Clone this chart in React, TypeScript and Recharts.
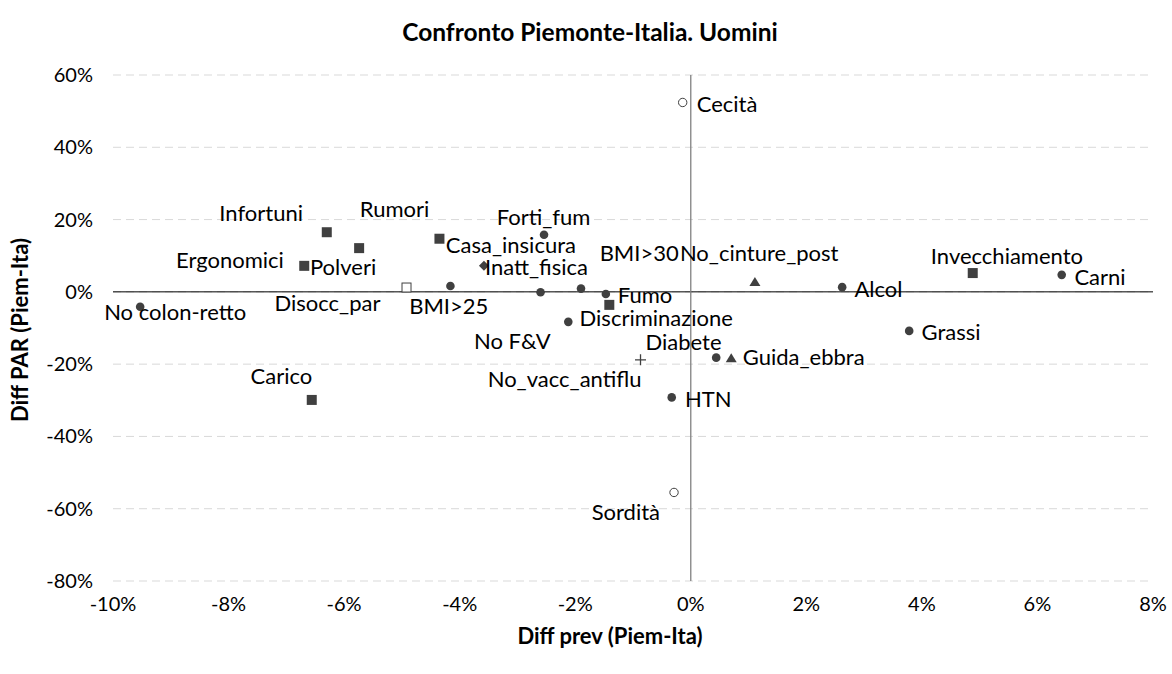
import React from 'react';
import { ScatterChart, Scatter, XAxis, YAxis, CartesianGrid, ReferenceLine } from 'recharts';

// ---- data (Diff prev, Diff PAR) ----
const squareNames = ['Infortuni', 'Rumori', 'Polveri', 'Casa_insicura', 'Carico', 'Invecchiamento', 'Ergonomici'];
const squareX = [-0.063, -0.0574, -0.0669, -0.0435, -0.0656, 0.0488, -0.0141];
const squareY = [0.165, 0.121, 0.072, 0.147, -0.299, 0.052, -0.036];

const dotNames = ['No colon-retto', 'BMI>25', 'Forti_fum', 'No F&V', 'BMI>30', 'Fumo', 'Discriminazione', 'Alcol', 'Carni', 'Grassi', 'Diabete', 'HTN'];
const dotX = [-0.0953, -0.0416, -0.0254, -0.026, -0.019, -0.0147, -0.0212, 0.0262, 0.0642, 0.0378, 0.0044, -0.0033];
const dotY = [-0.041, 0.016, 0.158, -0.001, 0.009, -0.006, -0.083, 0.013, 0.047, -0.108, -0.182, -0.292];

const hollowSquareNames = ['Disocc_par'];
const hollowSquareX = [-0.0492];
const hollowSquareY = [0.012];

const triangleNames = ['No_cinture_post', 'Guida_ebbra'];
const triangleX = [0.0111, 0.007];
const triangleY = [0.027, -0.184];

const crossNames = ['No_vacc_antiflu'];
const crossX = [-0.0087];
const crossY = [-0.188];

const diamondNames = ['Inatt_fisica'];
const diamondX = [-0.0358];
const diamondY = [0.072];

const hollowCircleNames = ['Cecità', 'Sordità'];
const hollowCircleX = [-0.0014, -0.0029];
const hollowCircleY = [0.524, -0.555];

const xTicks = [-0.1, -0.08, -0.06, -0.04, -0.02, 0, 0.02, 0.04, 0.06, 0.08];
const yTicks = [-0.8, -0.6, -0.4, -0.2, 0, 0.2, 0.4, 0.6];

// ---- label placement (style, relative to each marker) ----
const labelPlacement: Record<string, [string, number, number]> = {
  'Cecità': ['start', 14, 10],
  'Sordità': ['end', -14, 28],
  'Infortuni': ['middle', -65.6, -11],
  'Rumori': ['middle', 35.4, -31],
  'Polveri': ['start', 5.7, 9.5],
  'Casa_insicura': ['start', 6.4, 14],
  'Carico': ['middle', -30.3, -16],
  'Invecchiamento': ['middle', 34.2, -9.5],
  'Ergonomici': ['middle', -379.3, -37],
  'No colon-retto': ['middle', 35, 13],
  'BMI>25': ['middle', -1.7, 28],
  'Forti_fum': ['middle', -0.5, -9.5],
  'No F&V': ['middle', -28.3, 57],
  'BMI>30': ['middle', 58.2, -27.5],
  'Fumo': ['start', 12, 8.5],
  'Discriminazione': ['start', 11.3, 4.5],
  'Alcol': ['start', 12.3, 9.8],
  'Carni': ['start', 12.7, 10.5],
  'Grassi': ['start', 12.4, 9.5],
  'Diabete': ['middle', -32.7, -8],
  'HTN': ['start', 13.3, 9.5],
  'Disocc_par': ['middle', -79, 23.5],
  'No_cinture_post': ['start', -75, -21],
  'Guida_ebbra': ['start', 11.6, 7],
  'No_vacc_antiflu': ['end', 1, 27],
  'Inatt_fisica': ['start', 1, 9.5],
};

const zip = (names: string[], xs: number[], ys: number[]) =>
  names.map((name, i) => ({ name, x: xs[i], y: ys[i] }));

const squares = zip(squareNames, squareX, squareY);
const dots = zip(dotNames, dotX, dotY);
const hollowSquares = zip(hollowSquareNames, hollowSquareX, hollowSquareY);
const triangles = zip(triangleNames, triangleX, triangleY);
const crosses = zip(crossNames, crossX, crossY);
const diamonds = zip(diamondNames, diamondX, diamondY);
const hollowCircles = zip(hollowCircleNames, hollowCircleX, hollowCircleY);
const allPoints = [...squares, ...dots, ...hollowSquares, ...triangles, ...crosses, ...diamonds, ...hollowCircles];

const MK = '#404040';
const FONT = "Lato, 'Open Sans', sans-serif";
const LFS = 22;
const TFS = 20;

const pct = (v: number) => `${Math.round(v * 100)}%`;

const squareShape = (p: any) => <rect x={p.cx - 5} y={p.cy - 5} width={10} height={10} fill={MK} />;
const dotShape = (p: any) => <circle cx={p.cx} cy={p.cy} r={4.3} fill={MK} />;
const hollowSquareShape = (p: any) => (
  <rect x={p.cx - 4.5} y={p.cy - 4.5} width={9} height={9} fill="#fff" stroke={MK} strokeWidth={1} />
);
const triangleShape = (p: any) => (
  <path d={`M${p.cx},${p.cy - 5} L${p.cx + 5.5},${p.cy + 4} L${p.cx - 5.5},${p.cy + 4} Z`} fill={MK} />
);
const crossShape = (p: any) => (
  <path d={`M${p.cx - 5.5},${p.cy} H${p.cx + 5.5} M${p.cx},${p.cy - 5.5} V${p.cy + 5.5}`} stroke={MK} strokeWidth={1.3} fill="none" />
);
const diamondShape = (p: any) => (
  <path d={`M${p.cx},${p.cy - 5} L${p.cx + 5},${p.cy} L${p.cx},${p.cy + 5} L${p.cx - 5},${p.cy} Z`} fill={MK} />
);
const hollowCircleShape = (p: any) => <circle cx={p.cx} cy={p.cy} r={4.2} fill="#fff" stroke={MK} strokeWidth={1} />;

const labelShape = (p: any) => {
  const name = p.payload?.name ?? '';
  const [anchor, dx, dy] = labelPlacement[name] || ['start', 10, 6];
  return (
    <text x={p.cx + dx} y={p.cy + dy} textAnchor={anchor as any} fontFamily={FONT} fontSize={LFS} fill="#000">
      {name}
    </text>
  );
};

const XTick = (p: any) => (
  <text x={p.x} y={p.y + 30} textAnchor="middle" fontFamily={FONT} fontSize={TFS} fill="#000">
    {pct(p.payload.value)}
  </text>
);
const YTick = (p: any) => (
  <text x={p.x - 20} y={p.y + 7} textAnchor="end" fontFamily={FONT} fontSize={TFS} fill="#000">
    {pct(p.payload.value)}
  </text>
);

export default function App() {
  return (
    <div style={{ position: 'absolute', left: 0, top: 0, width: 1172, height: 674, background: '#fff' }}>
      <ScatterChart width={1172} height={674} margin={{ top: 75, right: 19, bottom: 63, left: 53 }}>
        <CartesianGrid vertical={false} stroke="#d9d9d9" strokeDasharray="8 5" />
        <XAxis
          type="number"
          dataKey="x"
          domain={[-0.1, 0.08]}
          ticks={xTicks}
          interval={0}
          axisLine={false}
          tickLine={false}
          tickSize={0}
          tickMargin={0}
          height={30}
          tick={XTick}
        />
        <YAxis
          type="number"
          dataKey="y"
          domain={[-0.8, 0.6]}
          ticks={yTicks}
          interval={0}
          axisLine={false}
          tickLine={false}
          tickSize={0}
          tickMargin={0}
          width={60}
          tick={YTick}
        />
        <ReferenceLine y={0} stroke="#000" strokeWidth={1} />
        <ReferenceLine x={0} stroke="#808080" strokeWidth={1.3} />
        <Scatter data={squares} shape={squareShape} isAnimationActive={false} />
        <Scatter data={dots} shape={dotShape} isAnimationActive={false} />
        <Scatter data={hollowSquares} shape={hollowSquareShape} isAnimationActive={false} />
        <Scatter data={triangles} shape={triangleShape} isAnimationActive={false} />
        <Scatter data={crosses} shape={crossShape} isAnimationActive={false} />
        <Scatter data={diamonds} shape={diamondShape} isAnimationActive={false} />
        <Scatter data={hollowCircles} shape={hollowCircleShape} isAnimationActive={false} />
        <Scatter data={allPoints} shape={labelShape} isAnimationActive={false} />
      </ScatterChart>
      <svg width={1172} height={674} style={{ position: 'absolute', left: 0, top: 0, pointerEvents: 'none' }}>
        <text x={590} y={41} textAnchor="middle" fontFamily={FONT} fontSize={24.5} fontWeight="bold" fill="#000">
          Confronto Piemonte-Italia. Uomini
        </text>
        <text x={610} y={644} textAnchor="middle" fontFamily={FONT} fontSize={22} fontWeight="bold" fill="#000">
          Diff prev (Piem-Ita)
        </text>
        <text
          x={0}
          y={0}
          transform="translate(28,330) rotate(-90)"
          textAnchor="middle"
          fontFamily={FONT}
          fontSize={22}
          fontWeight="bold"
          fill="#000"
        >
          Diff PAR (Piem-Ita)
        </text>
      </svg>
    </div>
  );
}
